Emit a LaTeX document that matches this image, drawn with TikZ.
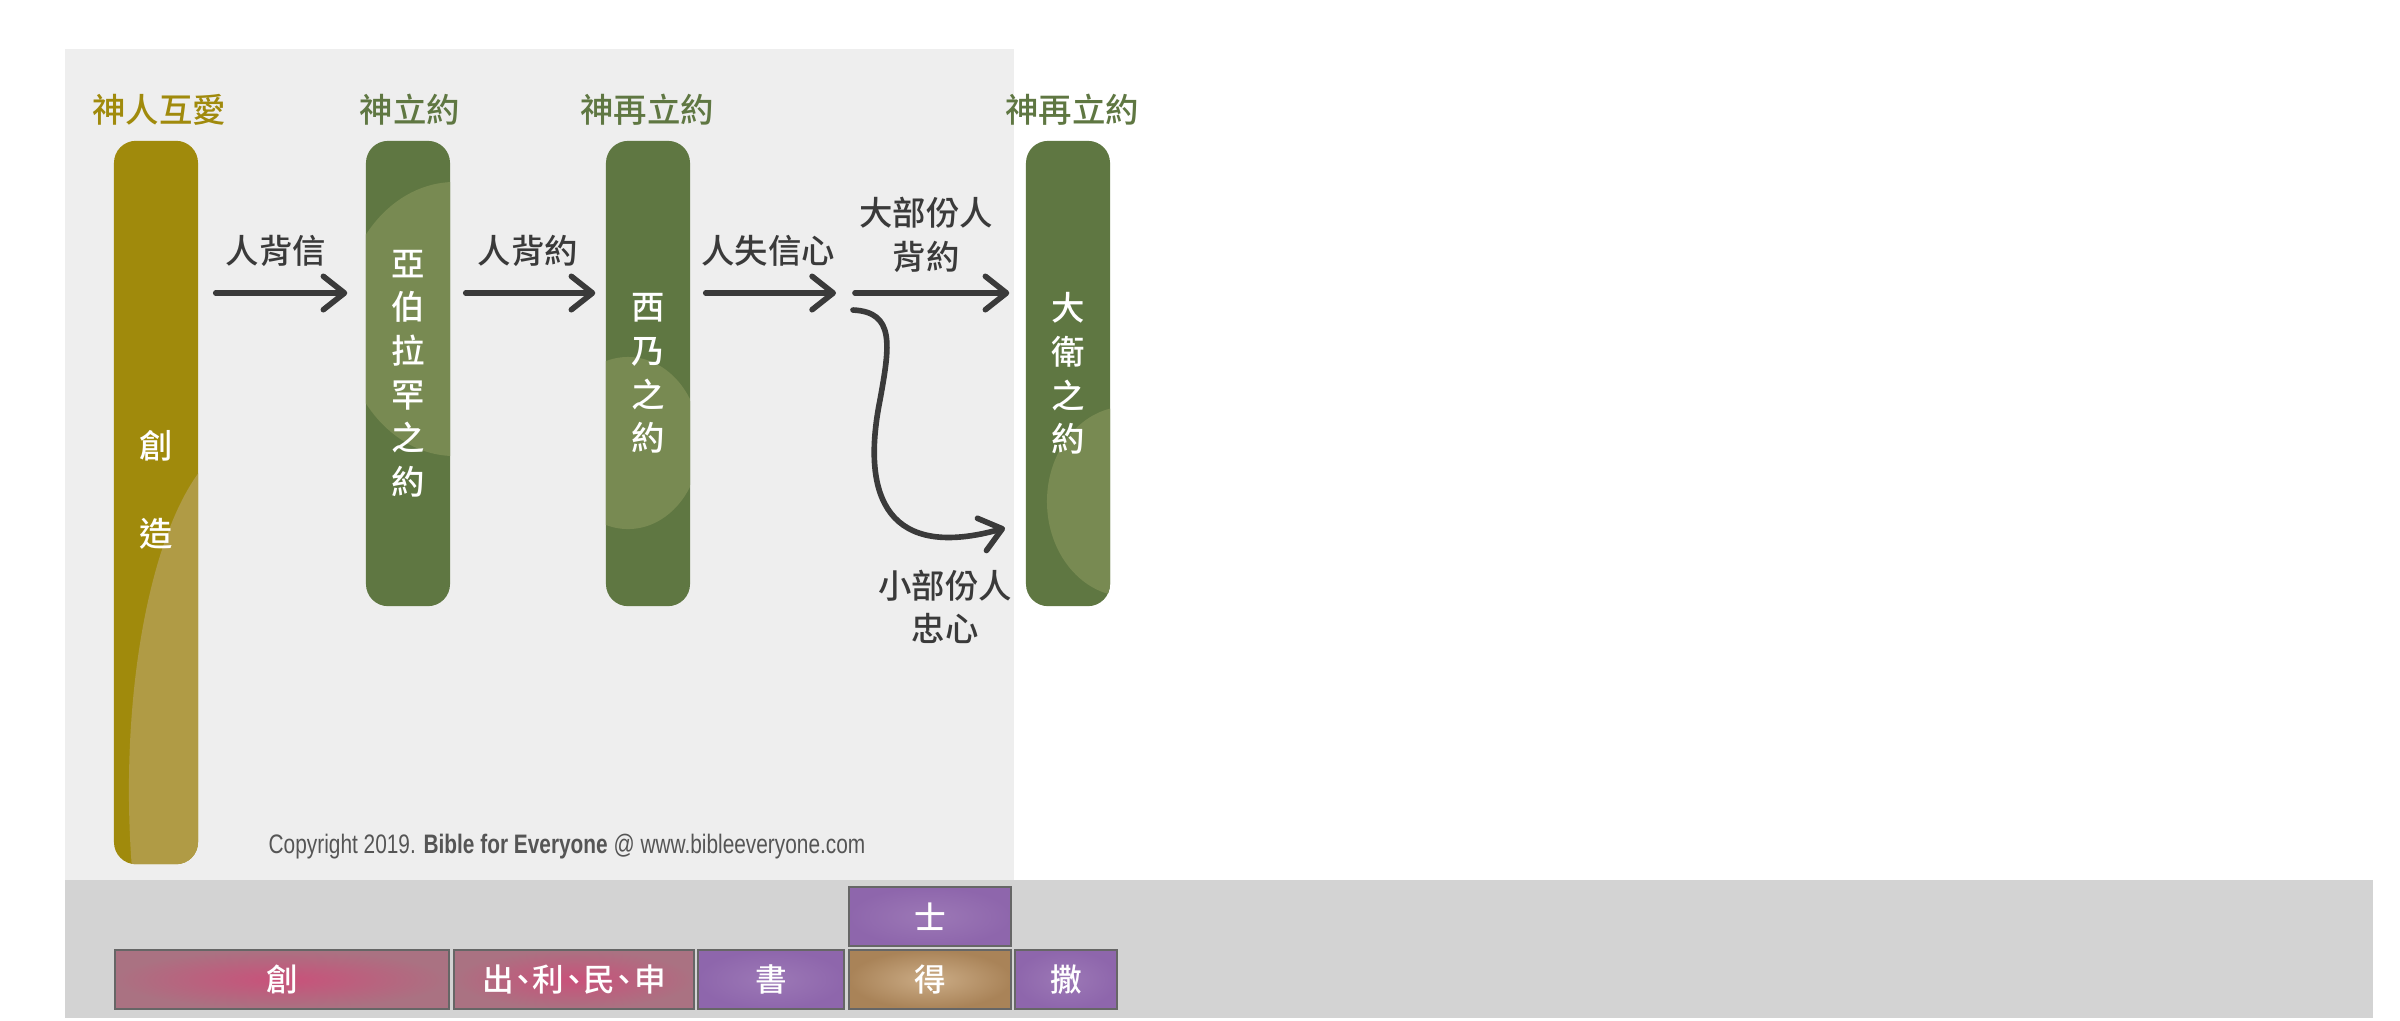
\documentclass[tikz,border=0pt]{standalone}
\usepackage{fontspec}
\newfontfamily\cjk{Noto Sans CJK TC Medium}
\newfontfamily\cprfont[FakeStretch=0.78]{Liberation Sans}
\usetikzlibrary{arrows.meta,calc,positioning}

\definecolor{gold}{HTML}{A08A0C}
\definecolor{goldlight}{HTML}{B09B45}
\definecolor{olive}{HTML}{5F7742}
\definecolor{olivelight}{HTML}{788A52}
\definecolor{panelbg}{HTML}{EEEEEE}
\definecolor{stripbg}{HTML}{D3D3D3}
\definecolor{ink}{HTML}{3A3A3A}
\definecolor{cprgrey}{HTML}{555555}
\definecolor{rose}{HTML}{AA7282}
\definecolor{rosehot}{HTML}{C9517A}
\definecolor{violet}{HTML}{8E66AC}
\definecolor{violetlight}{HTML}{9C78B6}
\definecolor{tanbox}{HTML}{A98358}
\definecolor{tanlight}{HTML}{CBAC86}
\definecolor{boxline}{HTML}{666666}

\newcommand{\dun}{\hspace{-.2em}、\hspace{-.2em}}

\tikzset{
  pillar/.style={rounded corners=0.22cm, minimum width=0.84cm, inner sep=0pt,
    text=white, align=center, font=\cjk\fontsize{9.5}{12.4}\selectfont},
  glow/.style n args={3}{path picture={
    \fill[#1] ($(path picture bounding box.center)+(#2)$) ellipse (#3);}},
  head/.style={inner sep=0pt, font=\cjk\fontsize{9.5}{12}\selectfont},
  lbl/.style={text=ink, align=center, inner sep=0pt,
    font=\cjk\fontsize{9.5}{12.4}\selectfont},
  flow/.style={draw=ink, line width=1.6pt, line cap=round,
    -{Straight Barb[length=6pt,width=9.5pt,line cap=round,line join=round]}},
  book/.style={draw=boxline, line width=0.6pt, minimum height=0.59cm, inner sep=0pt,
    text=white, font=\cjk\fontsize{9}{11}\selectfont},
}

\begin{document}
\begin{tikzpicture}[x=0.01cm,y=-0.01cm]
	\useasboundingbox (0,0) rectangle (2400,1020);
	\fill[panelbg] (65,49) rectangle (1014,880);
	\fill[stripbg] (65,880) rectangle (2373,1018);

	% covenants
	\node[pillar, fill=gold, minimum height=7.23cm, text depth=8pt,
	  glow={goldlight}{94,287.5}{1.21cm and 3.5cm}] (gen) at (156,502.5) {創\\[12.4pt]造};
	\node[pillar, fill=olive, minimum height=4.65cm,
	  glow={olivelight}{47,-54.5}{1.13cm and 1.37cm}] (abr) at (408,373.5) {亞\\伯\\拉\\罕\\之\\約};
	\node[pillar, fill=olive, minimum height=4.65cm,
	  glow={olivelight}{-20,69.5}{0.72cm and 0.86cm}] (sin) at (648,373.5) {西\\乃\\之\\約};
	\node[pillar, fill=olive, minimum height=4.65cm,
	  glow={olivelight}{59,128}{0.8cm and 0.95cm}] (dav) at (1068,373.5) {大\\衛\\之\\約};

	\node[head, text=gold] (hgen) at (159,110) {神人互愛};
	\node[head, text=olive] (habr) at (410,110) {神立約};
	\node[head, text=olive] (hsin) at (647,110) {神再立約};
	\node[head, text=olive] (hdav) at (1072,110) {神再立約};

	% arrows
	\coordinate (row) at (0,293);
	\coordinate (fork) at (836,293);
	\coordinate (split) at (853,310);
	\coordinate (few) at (1005,528);
	\draw[flow] ($(gen.east |- row)+(17,0)$) -- ($(abr.west |- row)+(-18,0)$);
	\draw[flow] ($(abr.east |- row)+(15,0)$) -- ($(sin.west |- row)+(-10,0)$);
	\draw[flow] ($(sin.east |- row)+(15,0)$) -- (fork);
	\draw[flow] ($(fork)+(19,0)$) -- ($(dav.west |- row)+(-16,0)$);
	\draw[flow] (split) .. controls (895,312) and (890,345) .. (880,400)
	  .. controls (860,500) and (890,560) .. (few);

	\node[lbl] (betray) at (276,251) {人背信};
	\node[lbl] (breach) at (528,251) {人背約};
	\node[lbl] (doubt) at (768,251) {人失信心};
	\node[lbl] (most) at (926,235) {大部份人\\背約};
	\node[lbl] (faithful) at (945,607) {小部份人\\忠心};

	\node[text=cprgrey, inner sep=0pt, font=\cprfont\fontsize{7.6}{9}\selectfont] (copy)
	  at (567,847) {Copyright 2019. \textbf{Bible for Everyone} @ www.bibleeveryone.com};

	% books
	\node[book, minimum width=3.34cm, inner color=rosehot, outer color=rose] (bgen) at (282,979.5) {創};
	\node[book, minimum width=2.40cm, inner color=rosehot, outer color=rose] (bpent) at (574,979.5) {出\dun 利\dun 民\dun 申};
	\node[book, minimum width=1.46cm, inner color=violetlight, outer color=violet] (bjos) at (771,979.5) {書};
	\node[book, minimum width=1.62cm, inner color=tanlight, outer color=tanbox] (bruth) at (930,979.5) {得};
	\node[book, minimum width=1.02cm, inner color=violetlight, outer color=violet] (bsam) at (1066,979.5) {撒};
	\node[book, minimum width=1.62cm, inner color=violetlight, outer color=violet] (bjudg) at (930,916.5) {士};
\end{tikzpicture}
\end{document}
